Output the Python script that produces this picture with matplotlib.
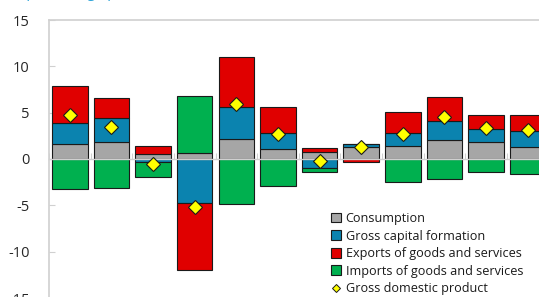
import matplotlib
matplotlib.use("Agg")
import matplotlib.pyplot as plt
import numpy as np
from matplotlib.patches import Patch
from matplotlib.lines import Line2D

plt.rcParams['font.family'] = ['Open Sans', 'DejaVu Sans']

# contributions to growth, 12 periods (percentage points)
consumption = [1.6, 1.8, 0.5, 0.7, 2.15, 1.05, 0.75, 1.33, 1.43, 2.1, 1.88, 1.25]
capital = [2.3, 2.6, -0.3, -4.8, 3.5, 1.8, -1.0, 0.33, 1.35, 1.97, 1.32, 1.74]
exports = [4.0, 2.15, 0.85, -7.2, 5.33, 2.8, 0.45, -0.3, 2.33, 2.62, 1.51, 1.72]
imports = [-3.2, -3.1, -1.65, 6.1, -4.9, -2.9, -0.35, 0.0, -2.5, -2.16, -1.4, -1.6]
gdp = [4.7, 3.4, -0.57, -5.2, 5.97, 2.66, -0.2, 1.33, 2.66, 4.56, 3.34, 3.1]

names = ["Consumption", "Gross capital formation",
         "Exports of goods and services", "Imports of goods and services"]
colors = ["#A6A6A6", "#0B83AF", "#E00000", "#00B04F"]

fig = plt.figure(figsize=(5.39, 2.97), dpi=100)
# axes runs a bit past the right and bottom edge like the cropped original
ax = fig.add_axes([49 / 539, -1 / 297, 499.5 / 539, 278 / 297])

x = np.arange(len(gdp))
pos_base = np.zeros(len(x))
neg_base = np.zeros(len(x))
for vals, col in zip([consumption, capital, exports, imports], colors):
    v = np.array(vals)
    bottom = np.where(v >= 0, pos_base, neg_base)
    ax.bar(x, v, 0.85, bottom=bottom, color=col, edgecolor="#1a1a1a",
           linewidth=0.8, zorder=2)
    pos_base += np.where(v >= 0, v, 0)
    neg_base += np.where(v < 0, v, 0)

ax.plot(x, gdp, linestyle="none", marker="D", markersize=7.2,
        markerfacecolor="#FFFF00", markeredgecolor="#1a1a1a",
        markeredgewidth=0.8, zorder=4)

ax.set_xlim(-0.5, 11.5)
ax.set_ylim(-15, 15)
ax.set_yticks([-15, -10, -5, 0, 5, 10, 15])
ax.set_yticklabels(["-15", "-10", "-5", "0", "5", "10", "15"])

axis_col = "#D0D0D0"
ax.spines["right"].set_visible(False)
ax.spines["left"].set_color(axis_col)
ax.spines["left"].set_linewidth(1.2)
ax.spines["top"].set_color(axis_col)
ax.spines["top"].set_linewidth(1.2)
ax.spines["bottom"].set_position(("data", 0))
ax.spines["bottom"].set_color(axis_col)
ax.spines["bottom"].set_linewidth(1.0)
ax.spines["bottom"].set_zorder(3)

ax.set_xticks(np.arange(-0.5, 12, 1))
ax.set_xticklabels([])
ax.tick_params(axis="x", direction="in", length=4, color=axis_col, top=False)
ax.tick_params(axis="y", direction="in", length=4, color=axis_col,
               labelsize=10.5, labelcolor="#262626", pad=14)

# heading sits mostly above the crop, only descenders show
fig.text(22 / 539, 1 + 3 / 297, "(percentage points)", color="#2CA3D8",
         fontsize=10.5, va="baseline", ha="left")

handles = [Patch(facecolor=c, edgecolor="#1a1a1a", linewidth=0.8) for c in colors]
handles.append(Line2D([], [], linestyle="none", marker="D", markersize=4.5,
                      markerfacecolor="#FFFF00", markeredgecolor="#1a1a1a",
                      markeredgewidth=0.7))
labels = names + ["Gross domestic product"]
fig.legend(handles, labels, loc="upper left",
           bbox_to_anchor=(331 / 539, 1 - 212 / 297), frameon=False,
           fontsize=9.1, handlelength=0.8, handleheight=0.8,
           handletextpad=0.35, labelspacing=0.36, borderpad=0,
           borderaxespad=0, labelcolor="#1a1a1a")

plt.savefig("out.png", dpi=100)
plt.close()
